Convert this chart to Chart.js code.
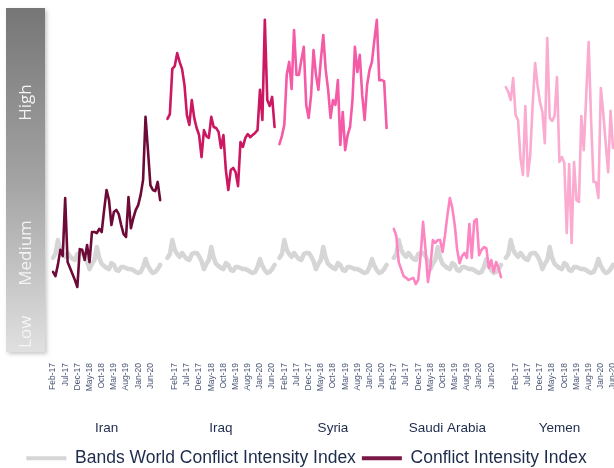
<!DOCTYPE html>
<html>
<head>
<meta charset="utf-8">
<script src="https://cdn.jsdelivr.net/npm/chart.js@4.4.1/dist/chart.umd.min.js"></script>
<style>
  html, body { margin: 0; padding: 0; background: #fff; }
  #wrap { width: 614px; height: 468px; }
</style>
</head>
<body>
<div id="wrap"><canvas id="chart"></canvas></div>
<script>
// ---- data ----------------------------------------------------------------
const COUNTRIES   = ['Iran', 'Iraq', 'Syria', 'Saudi Arabia', 'Yemen'];
const TICK_MONTHS = ['Feb-17', 'Jul-17', 'Dec-17', 'May-18', 'Oct-18', 'Mar-19', 'Aug-19', 'Jan-20', 'Jun-20'];
// labels shown every 5th slot along the whole axis ('' where a gap falls)
const TICK_ROW = [...TICK_MONTHS, '', ...TICK_MONTHS, ...TICK_MONTHS, ...TICK_MONTHS, '', ...TICK_MONTHS];
// empty months left between the country blocks
const GROUP_GAPS = [2, 1, 2, 1];

const WORLD_INDEX = [28.6, 29.7, 33.7, 30.9, 29.7, 28.9, 30.0, 29.1, 28.3, 28.0, 29.7, 30.0, 30.0, 29.1, 27.7,
  25.4, 26.9, 28.0, 31.7, 28.6, 26.9, 26.3, 25.7, 25.4, 27.1, 26.6, 25.1, 24.9, 26.0, 26.0,
  25.7, 25.4, 25.4, 25.1, 24.6, 24.3, 24.6, 26.0, 28.3, 26.3, 25.1, 24.3, 24.6, 25.4, 26.6];

const IRAN = [24.6, 23.4, 26.6, 30.9, 29.1, 45.7, 27.4, 25.7, 24.0, 22.3, 20.3, 31.1, 30.9, 28.0, 32.3,
  27.4, 36.0, 36.0, 35.7, 36.9, 36.0, 42.3, 48.0, 45.1, 38.0, 41.7, 42.3, 41.1, 38.0, 35.4,
  34.6, 46.0, 37.1, 40.0, 42.3, 43.7, 46.6, 50.9, 68.9, 59.4, 49.4, 48.0, 47.7, 50.3, 45.1];
const IRAQ = [68.3, 69.7, 82.6, 83.4, 87.1, 84.6, 82.6, 78.0, 69.4, 66.6, 73.7, 68.6, 65.7, 63.7, 57.4,
  65.1, 63.4, 62.9, 68.9, 66.0, 65.7, 64.6, 60.0, 63.7, 53.7, 48.0, 53.7, 54.3, 53.1, 49.1,
  61.7, 60.3, 62.9, 64.0, 63.1, 63.7, 64.3, 65.1, 76.6, 68.0, 96.6, 73.7, 72.0, 74.6, 66.0];
const SYRIA = [61.1, 63.4, 66.6, 80.9, 84.6, 76.9, 93.7, 80.9, 80.9, 85.1, 88.9, 72.3, 68.6, 75.1, 88.0,
  80.9, 76.6, 85.1, 92.3, 82.3, 76.6, 68.6, 73.7, 72.3, 79.4, 60.9, 70.3, 59.4, 63.7, 66.0,
  73.7, 88.9, 81.7, 86.6, 75.1, 68.0, 78.0, 82.3, 84.6, 90.9, 96.6, 79.4, 79.4, 79.1, 65.7];
const SAUDI = [36.9, 34.9, 27.4, 25.4, 23.4, 22.9, 22.3, 22.6, 22.9, 21.1, 22.3, 29.4, 38.9, 30.9, 21.7,
  26.0, 33.7, 32.9, 33.7, 33.7, 30.3, 35.1, 40.9, 45.7, 42.9, 38.0, 30.9, 27.1, 29.1, 30.0,
  28.6, 38.3, 28.6, 39.1, 39.7, 29.4, 30.9, 31.7, 31.4, 25.7, 28.0, 24.6, 27.4, 25.7, 23.1];
const YEMEN = [77.4, 76.0, 73.7, 80.0, 69.4, 68.0, 57.1, 52.3, 72.0, 52.0, 58.0, 72.3, 84.3, 78.0, 73.1,
  70.3, 61.4, 91.4, 68.6, 67.7, 69.1, 80.3, 56.0, 57.4, 55.7, 35.7, 55.4, 32.9, 56.0, 45.1,
  44.6, 69.1, 59.4, 75.1, 90.3, 68.0, 50.3, 50.3, 45.7, 77.1, 70.0, 61.4, 53.1, 70.6, 60.0];
const SERIES = [IRAN, IRAQ, SYRIA, SAUDI, YEMEN];

const LEGEND_TEXT = ['Bands World Conflict Intensity Index', 'Conflict Intensity Index'];
const BAND_NAMES  = ['High', 'Medium', 'Low'];
const BAND_LEVELS = [73, 30, 7.5];

// ---- styling -------------------------------------------------------------
const GREY   = '#d6d6d6';
const NAVY   = '#1d2b4c';
const TICK_C = '#4a5675';
const COUNTRY_COLORS = ['#6e0a37', '#cc1761', '#f45aa6', '#fd86c2', '#fbaad0'];
const LEGEND_COLORS  = [GREY, '#7a1848'];
const FONT = "'Liberation Sans', Arial, sans-serif";

// ---- build the slot axis -------------------------------------------------
const starts = [];
let pos = 0;
SERIES.forEach((s, i) => {
  starts.push(pos);
  pos += s.length + (GROUP_GAPS[i] || 0);
});
const TOTAL = starts[starts.length - 1] + SERIES[SERIES.length - 1].length;

const slotLabels  = Array.from({ length: TOTAL }, (_, i) => i % 5 === 0 ? (TICK_ROW[i / 5] || '') : '');
const groupLabels = Array(TOTAL).fill('');
COUNTRIES.forEach((c, i) => { groupLabels[starts[i] + Math.floor(SERIES[i].length / 2)] = c; });

function place(values, start) {
  const out = Array(TOTAL).fill(null);
  values.forEach((v, i) => { out[start + i] = v; });
  return out;
}

const worldData = Array(TOTAL).fill(null);
starts.forEach(s => WORLD_INDEX.forEach((v, i) => { worldData[s + i] = v; }));

const datasets = SERIES.map((s, i) => ({
  label: COUNTRIES[i],
  data: place(s, starts[i]),
  borderColor: COUNTRY_COLORS[i],
  borderWidth: 2.6,
}));
datasets.push({ label: LEGEND_TEXT[0], data: worldData, borderColor: GREY, borderWidth: 4.5 });

// ---- left High/Medium/Low panel ------------------------------------------
const bandPanel = {
  id: 'bandPanel',
  beforeDraw(chart) {
    const { ctx } = chart;
    const y = chart.scales.y;
    const x0 = 6, w = 39, top = 8, bottom = 352;
    ctx.save();
    const g = ctx.createLinearGradient(0, top, 0, bottom);
    g.addColorStop(0, '#767676');
    g.addColorStop(0.5, '#a3a3a3');
    g.addColorStop(1, '#e0e0e0');
    ctx.shadowColor = 'rgba(0,0,0,0.22)';
    ctx.shadowBlur = 4;
    ctx.shadowOffsetX = 2;
    ctx.shadowOffsetY = 2;
    ctx.fillStyle = g;
    ctx.fillRect(x0, top, w, bottom - top);
    ctx.shadowColor = 'transparent';
    ctx.fillStyle = '#f4f4f4';
    ctx.font = "17px 'Open Sans', sans-serif";
    ctx.textAlign = 'center';
    ctx.textBaseline = 'middle';
    BAND_NAMES.forEach((t, i) => {
      ctx.save();
      ctx.translate(x0 + w / 2 + 1, y.getPixelForValue(BAND_LEVELS[i]));
      ctx.rotate(-Math.PI / 2);
      ctx.fillText(t, 0, 0);
      ctx.restore();
    });
    ctx.restore();
  },
};

const noSidePad = s => { s.paddingLeft = 0; s.paddingRight = 0; };

new Chart(document.getElementById('chart'), {
  type: 'line',
  data: { labels: slotLabels, datasets },
  plugins: [bandPanel],
  options: {
    responsive: true, maintainAspectRatio: false, animation: false,
    layout: { padding: { left: 0, right: 1, top: 8, bottom: -9 } },
    elements: {
      point: { radius: 0, hoverRadius: 0 },
      line: { tension: 0, borderJoinStyle: 'round', borderCapStyle: 'round' },
    },
    spanGaps: false,
    plugins: {
      tooltip: { enabled: false },
      legend: {
        position: 'bottom',
        labels: {
          color: NAVY, font: { family: FONT, size: 17.5 }, boxWidth: 40, boxHeight: 4, padding: 6,
          generateLabels: () => LEGEND_TEXT.map((t, i) => ({
            text: t, fillStyle: LEGEND_COLORS[i], strokeStyle: LEGEND_COLORS[i], lineWidth: 0, hidden: false, fontColor: NAVY,
          })),
        },
      },
    },
    scales: {
      y: {
        min: 0, max: 100,
        grid: { display: false, drawTicks: false }, border: { display: false },
        ticks: { display: false },
        afterFit: s => { s.width = 53; },
      },
      x: {
        offset: false,
        grid: { display: false, drawTicks: false }, border: { display: false },
        ticks: { autoSkip: false, minRotation: 90, maxRotation: 90, padding: 5, color: TICK_C, font: { family: FONT, size: 8.5 } },
        afterFit: s => { s.height = 42; noSidePad(s); },
      },
      xg: {
        type: 'category', position: 'bottom', weight: 1, offset: false, labels: groupLabels,
        grid: { display: false, drawTicks: false }, border: { display: false },
        ticks: { autoSkip: false, minRotation: 0, maxRotation: 0, padding: 20, color: NAVY, font: { family: FONT, size: 13.5 } },
        afterFit: s => { s.height = 43.5; noSidePad(s); },
      },
    },
  },
});
</script>
</body>
</html>
